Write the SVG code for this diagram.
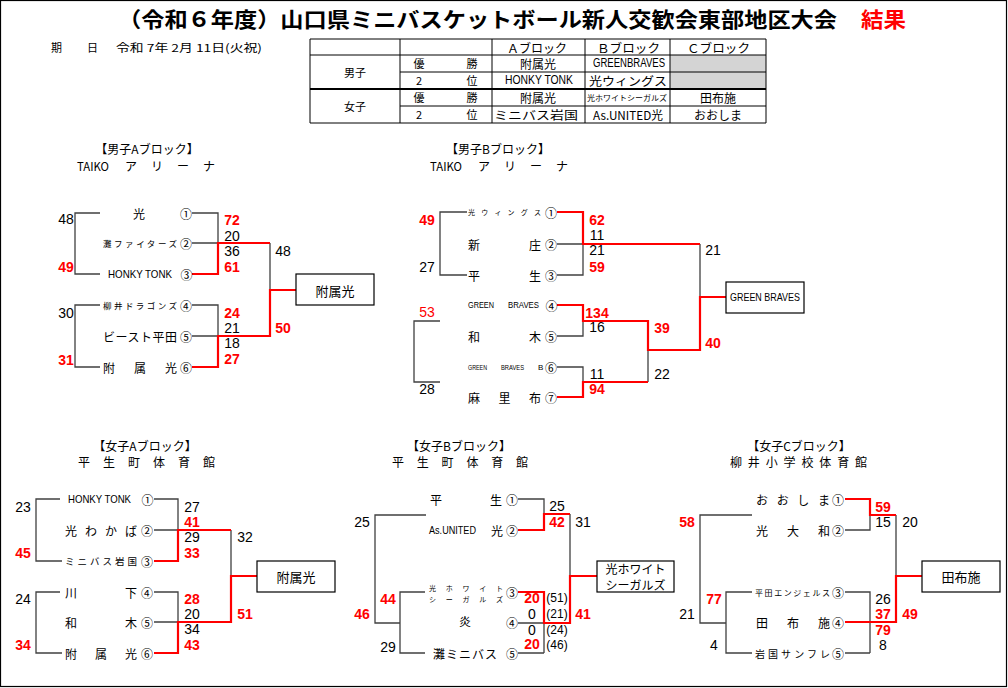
<svg xmlns="http://www.w3.org/2000/svg" width="1008" height="688" viewBox="0 0 1008 688">
<style>
text{font-family:"Noto Sans CJK JP","Noto Sans CJK SC",sans-serif;fill:#000;dominant-baseline:central}
.title{font-size:21px;font-weight:bold}
.hd{font-size:11px}
.bh{font-size:12px;text-anchor:middle}
.tb{font-size:11px;text-anchor:middle}
.tbs{font-size:7.5px;text-anchor:middle}
.nm{font-size:12px}
.sm{font-size:8.5px}
.xs{font-size:7px}
.la{font-family:"Liberation Sans Narrow","Liberation Sans",sans-serif;font-size:12px}
.ci{font-size:12px;text-anchor:middle}
.n{font-family:"Liberation Sans Narrow","Liberation Sans",sans-serif;font-size:14px;text-anchor:middle}
.r{fill:#f00;font-weight:bold}
.rt{fill:#f00}
.bx{fill:#fff;stroke:#000;stroke-width:1.2}
.bt{font-size:13px;text-anchor:middle}
.k{fill:none;stroke:#404040;stroke-width:1.3}
.rd{fill:none;stroke:#f00;stroke-width:2.2}
.tl{fill:none;stroke:#000;stroke-width:1}
</style>
<rect x="0.5" y="0.5" width="1006" height="686" fill="#fff" stroke="#000" stroke-width="1.2"/>

<g id="title">
<text class="title" x="118" y="18" textLength="719" lengthAdjust="spacingAndGlyphs">（令和６年度）山口県ミニバスケットボール新人交歓会東部地区大会</text>
<text class="title" x="861" y="18" textLength="45" lengthAdjust="spacingAndGlyphs" style="fill:#f00">結果</text>
</g>
<g id="date">
<text class="hd" x="51" y="47">期</text>
<text class="hd" x="87" y="47">日</text>
<text class="hd" x="116" y="47" textLength="146" lengthAdjust="spacingAndGlyphs">令和 7年 2月 11日(火祝)</text>
</g>

<g id="result-table">
<rect x="310" y="55" width="90" height="68" fill="#fff"/>
<rect x="670" y="55" width="96" height="34" fill="#d4d4d4"/>
<path class="tl" d="M310,39H766V123H310Z M310,55H766 M400,72H766 M400,106H766 M400,39V123 M492,39V123 M585,39V123 M670,39V123"/>
<path class="tl" d="M310,89H766" style="stroke-width:1.8"/>
<text class="tb" x="355" y="72">男子</text>
<text class="tb" x="355" y="106">女子</text>
<text class="tb" x="419" y="63">優</text><text class="tb" x="472" y="63">勝</text>
<text class="tb" x="419" y="80">2</text><text class="tb" x="472" y="80">位</text>
<text class="tb" x="419" y="97">優</text><text class="tb" x="472" y="97">勝</text>
<text class="tb" x="419" y="114">2</text><text class="tb" x="472" y="114">位</text>
<text class="tb" x="507" y="47" textLength="60" lengthAdjust="spacingAndGlyphs" style="text-anchor:start;font-size:12px">Ａブロック</text>
<text class="tb" x="597" y="47" textLength="63" lengthAdjust="spacingAndGlyphs" style="text-anchor:start;font-size:12px">Ｂブロック</text>
<text class="tb" x="687" y="47" textLength="63" lengthAdjust="spacingAndGlyphs" style="text-anchor:start;font-size:12px">Ｃブロック</text>
<text class="tb" x="538" y="63" style="font-size:12px">附属光</text>
<text class="tb la" x="593" y="63" textLength="72" lengthAdjust="spacingAndGlyphs" style="text-anchor:start;font-size:12px">GREENBRAVES</text>
<text class="tb la" x="505" y="80" textLength="68" lengthAdjust="spacingAndGlyphs" style="text-anchor:start;font-size:12px">HONKY TONK</text>
<text class="tb" x="589" y="80" textLength="78" lengthAdjust="spacingAndGlyphs" style="text-anchor:start;font-size:12px">光ウィングス</text>
<text class="tb" x="538" y="97" style="font-size:12px">附属光</text>
<text class="tbs" x="587" y="97" textLength="80" lengthAdjust="spacingAndGlyphs" style="text-anchor:start">光ホワイトシーガルズ</text>
<text class="tb" x="718" y="97" style="font-size:12px">田布施</text>
<text class="tb" x="494" y="114" textLength="84" lengthAdjust="spacingAndGlyphs" style="text-anchor:start;font-size:12px">ミニバス岩国</text>
<text class="tb" x="593" y="114" textLength="70" lengthAdjust="spacingAndGlyphs" style="text-anchor:start;font-size:12px">As.UNITED光</text>
<text class="tb" x="718" y="114" style="font-size:12px">おおしま</text>
</g>

<g id="block-headers">
<text class="bh" x="147" y="148">【男子Aブロック】</text>
<text class="hd" x="77" y="165" textLength="32" lengthAdjust="spacingAndGlyphs" style="font-size:12px">TAIKO</text>
<text class="hd" x="125" y="165" textLength="90" lengthAdjust="spacing" style="font-size:12px">アリーナ</text>
<text class="bh" x="498" y="148">【男子Bブロック】</text>
<text class="hd" x="430" y="165" textLength="32" lengthAdjust="spacingAndGlyphs" style="font-size:12px">TAIKO</text>
<text class="hd" x="478" y="165" textLength="90" lengthAdjust="spacing" style="font-size:12px">アリーナ</text>
<text class="bh" x="145" y="445">【女子Aブロック】</text>
<text class="hd" x="78" y="461" textLength="137" lengthAdjust="spacing" style="font-size:12px">平生町体育館</text>
<text class="bh" x="459" y="445">【女子Bブロック】</text>
<text class="hd" x="392" y="461" textLength="136" lengthAdjust="spacing" style="font-size:12px">平生町体育館</text>
<text class="bh" x="799" y="445">【女子Cブロック】</text>
<text class="hd" x="730" y="461" textLength="137" lengthAdjust="spacing" style="font-size:12px">柳井小学校体育館</text>
</g>

<g id="connectors">
<g id="men-a-lines">
<path class="k" d="M100,213H75V274H100 M100,305H75V367H100 M192,213H218V243 M192,243H218 M192,305H218V336 M192,336H218 M270,243V290"/>
<path class="rd" d="M192,274H218V243H270 M192,367H218V336H270V290H296"/>
</g>
<g id="men-b-lines">
<path class="k" d="M467,212H440V275H467 M440,321H414V382H440 M557,244H583 M557,275H583V244 M700,244V297 M557,336H583V321 M557,367H583V382 M648,350V382"/>
<path class="rd" d="M557,212H583V244H700 M557,305H583V321H648V350H700V297H726 M557,397H583V382H648"/>
</g>
<g id="women-a-lines">
<path class="k" d="M60,499H36V561H62 M60,592H36V653H62 M154,499H178V530 M154,530H178 M231,530V576 M154,592H178V622 M154,622H178"/>
<path class="rd" d="M154,561H178V530H231 M154,653H178V622H231V576H257"/>
</g>
<g id="women-b-lines">
<path class="k" d="M426,515H375V623H400 M425,592H400V653H425 M518,499H544V514 M570,514V576 M518,623H544 M544,623V653 M518,653H544"/>
<path class="rd" d="M518,530H544V514H570 M518,592H544V623H570V576H597"/>
</g>
<g id="women-c-lines">
<path class="k" d="M752,515H700V623H726 M752,592H726V653H752 M845,530H870V515 M896,515V576 M845,592H870V653 M845,653H870"/>
<path class="rd" d="M845,499H870V515H896 M845,622H896V576H922"/>
</g>
</g>

<g id="men-a">
<g id="ma-1"><text class="nm" x="139" y="213" style="text-anchor:middle">光</text><text class="ci" x="186" y="213">①</text></g>
<g id="ma-2"><text class="sm" x="103" y="243" textLength="74" lengthAdjust="spacing">灘ファイターズ</text><text class="ci" x="186" y="243">②</text></g>
<g id="ma-3"><text class="la" x="108" y="274" textLength="64" lengthAdjust="spacingAndGlyphs" style="font-size:10.5px">HONKY TONK</text><text class="ci" x="186.5" y="274">③</text></g>
<g id="ma-4"><text class="sm" x="103" y="305" textLength="74" lengthAdjust="spacing">柳井ドラゴンズ</text><text class="ci" x="186" y="305">④</text></g>
<g id="ma-5"><text class="nm" x="103" y="336" textLength="74" lengthAdjust="spacing">ビースト平田</text><text class="ci" x="186" y="336">⑤</text></g>
<g id="ma-6"><text class="nm" x="103" y="367" textLength="74" lengthAdjust="spacing">附属光</text><text class="ci" x="186" y="367">⑥</text></g>
<g id="ma-winner"><rect class="bx" x="296" y="274" width="78" height="31"/><text class="bt" x="335" y="290">附属光</text></g>
</g>

<g id="men-b">
<g id="mb-1"><text class="xs" x="468" y="212" textLength="73" lengthAdjust="spacing">光ウィングス</text><text class="ci" x="551" y="212">①</text></g>
<g id="mb-2"><text class="nm" x="468" y="244" textLength="73" lengthAdjust="spacing">新庄</text><text class="ci" x="551" y="244">②</text></g>
<g id="mb-3"><text class="nm" x="468" y="275" textLength="73" lengthAdjust="spacing">平生</text><text class="ci" x="551" y="275">③</text></g>
<g id="mb-4"><text class="la" x="468" y="305" textLength="26" lengthAdjust="spacingAndGlyphs" style="font-size:9px">GREEN</text><text class="la" x="508" y="305" textLength="31" lengthAdjust="spacingAndGlyphs" style="font-size:9px">BRAVES</text><text class="ci" x="551.5" y="305">④</text></g>
<g id="mb-5"><text class="nm" x="468" y="336" textLength="73" lengthAdjust="spacing">和木</text><text class="ci" x="551" y="336">⑤</text></g>
<g id="mb-6"><text class="la" x="468" y="367" textLength="19" lengthAdjust="spacingAndGlyphs" style="font-size:8px">GREEN</text><text class="la" x="501" y="367" textLength="23" lengthAdjust="spacingAndGlyphs" style="font-size:8px">BRAVES</text><text class="la" x="538" y="367" style="font-size:8px">B</text><text class="ci" x="551" y="367">⑥</text></g>
<g id="mb-7"><text class="nm" x="468" y="397" textLength="73" lengthAdjust="spacing">麻里布</text><text class="ci" x="551" y="397">⑦</text></g>
<g id="mb-winner"><rect class="bx" x="726" y="282" width="78" height="31"/><text class="la" x="765" y="297" textLength="70" lengthAdjust="spacingAndGlyphs" style="text-anchor:middle;font-size:11px">GREEN BRAVES</text></g>
</g>

<g id="women-a">
<g id="wa-1"><text class="la" x="68" y="499" textLength="63" lengthAdjust="spacingAndGlyphs" style="font-size:10.5px">HONKY TONK</text><text class="ci" x="147.5" y="499">①</text></g>
<g id="wa-2"><text class="nm" x="65" y="530" textLength="72" lengthAdjust="spacing">光わかば</text><text class="ci" x="147" y="530">②</text></g>
<g id="wa-3"><text class="sm" x="65" y="561" textLength="72" lengthAdjust="spacing" style="font-size:9.5px">ミニバス岩国</text><text class="ci" x="147" y="561">③</text></g>
<g id="wa-4"><text class="nm" x="65" y="592" textLength="72" lengthAdjust="spacing">川下</text><text class="ci" x="147" y="592">④</text></g>
<g id="wa-5"><text class="nm" x="65" y="622" textLength="72" lengthAdjust="spacing">和木</text><text class="ci" x="147" y="622">⑤</text></g>
<g id="wa-6"><text class="nm" x="65" y="653" textLength="72" lengthAdjust="spacing">附属光</text><text class="ci" x="147" y="653">⑥</text></g>
<g id="wa-winner"><rect class="bx" x="257" y="561" width="78" height="31"/><text class="bt" x="296" y="576">附属光</text></g>
</g>

<g id="women-b">
<g id="wb-1"><text class="nm" x="430" y="499" textLength="72" lengthAdjust="spacing">平生</text><text class="ci" x="512" y="499">①</text></g>
<g id="wb-2"><text class="la" x="429" y="530" textLength="47" lengthAdjust="spacingAndGlyphs" style="font-size:10px">As.UNITED</text><text class="nm" x="491" y="530">光</text><text class="ci" x="512" y="530">②</text></g>
<g id="wb-3"><text class="xs" x="429" y="588" textLength="74" lengthAdjust="spacing">光ホワイト</text><text class="xs" x="429" y="599" textLength="74" lengthAdjust="spacing">シーガルズ</text><text class="ci" x="512" y="592">③</text></g>
<g id="wb-4"><text class="nm" x="465" y="620" style="text-anchor:middle">炎</text><text class="ci" x="512" y="622">④</text></g>
<g id="wb-5"><text class="nm" x="433" y="653" textLength="64" lengthAdjust="spacing">灘ミニバス</text><text class="ci" x="512" y="653">⑤</text></g>
<g id="wb-winner"><rect class="bx" x="597" y="561" width="77" height="31"/><text class="bt" x="635.5" y="568" style="font-size:12px">光ホワイト</text><text class="bt" x="635.5" y="584" style="font-size:12px">シーガルズ</text></g>
</g>

<g id="women-c">
<g id="wc-1"><text class="nm" x="756" y="499" textLength="74" lengthAdjust="spacing">おおしま</text><text class="ci" x="838" y="499">①</text></g>
<g id="wc-2"><text class="nm" x="756" y="530" textLength="74" lengthAdjust="spacing">光大和</text><text class="ci" x="838" y="530">②</text></g>
<g id="wc-3"><text class="xs" x="755" y="592" textLength="75" lengthAdjust="spacing" style="font-size:8px">平田エンジェルス</text><text class="ci" x="838" y="592">③</text></g>
<g id="wc-4"><text class="nm" x="756" y="622" textLength="74" lengthAdjust="spacing">田布施</text><text class="ci" x="838" y="622">④</text></g>
<g id="wc-5"><text class="sm" x="755" y="653" textLength="75" lengthAdjust="spacing" style="font-size:10px">岩国サンフレ</text><text class="ci" x="838" y="653">⑤</text></g>
<g id="wc-winner"><rect class="bx" x="922" y="561" width="78" height="31"/><text class="bt" x="961" y="576">田布施</text></g>
</g>

<g id="scores">
<text class="n" x="66" y="219">48</text><text class="n r" x="66" y="267">49</text>
<text class="n" x="66" y="313">30</text><text class="n r" x="66" y="360">31</text>
<text class="n r" x="232" y="220">72</text><text class="n" x="232" y="236">20</text><text class="n" x="232" y="251">36</text><text class="n r" x="232" y="267">61</text>
<text class="n r" x="232" y="313">24</text><text class="n" x="232" y="328">21</text><text class="n" x="232" y="343">18</text><text class="n r" x="232" y="359">27</text>
<text class="n" x="283" y="251">48</text><text class="n r" x="283" y="328">50</text>

<text class="n r" x="427" y="220">49</text><text class="n" x="427" y="267">27</text>
<text class="n rt" x="427" y="312">53</text><text class="n" x="427" y="389">28</text>
<text class="n r" x="597" y="220">62</text><text class="n" x="597" y="235">11</text><text class="n" x="597" y="250">21</text><text class="n r" x="597" y="267">59</text>
<text class="n r" x="597" y="313">134</text><text class="n" x="597" y="327">16</text>
<text class="n" x="597" y="374">11</text><text class="n r" x="597" y="389">94</text>
<text class="n r" x="662" y="328">39</text><text class="n" x="662" y="374">22</text>
<text class="n" x="713" y="250">21</text><text class="n r" x="713" y="343">40</text>

<text class="n" x="23" y="507">23</text><text class="n r" x="23" y="553">45</text>
<text class="n" x="23" y="599">24</text><text class="n r" x="23" y="645">34</text>
<text class="n" x="192" y="507">27</text><text class="n r" x="192" y="522">41</text><text class="n" x="192" y="537">29</text><text class="n r" x="192" y="553">33</text>
<text class="n r" x="192" y="599">28</text><text class="n" x="192" y="614">20</text><text class="n" x="192" y="629">34</text><text class="n r" x="192" y="645">43</text>
<text class="n" x="245" y="537">32</text><text class="n r" x="245" y="614">51</text>

<text class="n" x="362" y="522">25</text><text class="n r" x="362" y="614">46</text>
<text class="n r" x="388" y="599">44</text><text class="n" x="388" y="647">29</text>
<text class="n" x="557" y="506">25</text><text class="n r" x="557" y="522">42</text>
<text class="n" x="583" y="522">31</text><text class="n r" x="583" y="614">41</text>
<text class="n r" x="532" y="598">20</text><text class="n" x="532" y="614">0</text><text class="n" x="532" y="630">0</text><text class="n r" x="532" y="644">20</text>
<text class="n" x="557" y="598" style="font-size:12px">(51)</text><text class="n" x="557" y="614" style="font-size:12px">(21)</text><text class="n" x="557" y="630" style="font-size:12px">(24)</text><text class="n" x="557" y="645" style="font-size:12px">(46)</text>

<text class="n r" x="687" y="522">58</text><text class="n" x="687" y="614">21</text>
<text class="n r" x="714" y="599">77</text><text class="n" x="714" y="645">4</text>
<text class="n r" x="883" y="507">59</text><text class="n" x="883" y="522">15</text>
<text class="n" x="883" y="599">26</text><text class="n r" x="883" y="614">37</text><text class="n r" x="883" y="630">79</text><text class="n" x="883" y="645">8</text>
<text class="n" x="910" y="522">20</text><text class="n r" x="910" y="614">49</text>
</g>
</svg>
